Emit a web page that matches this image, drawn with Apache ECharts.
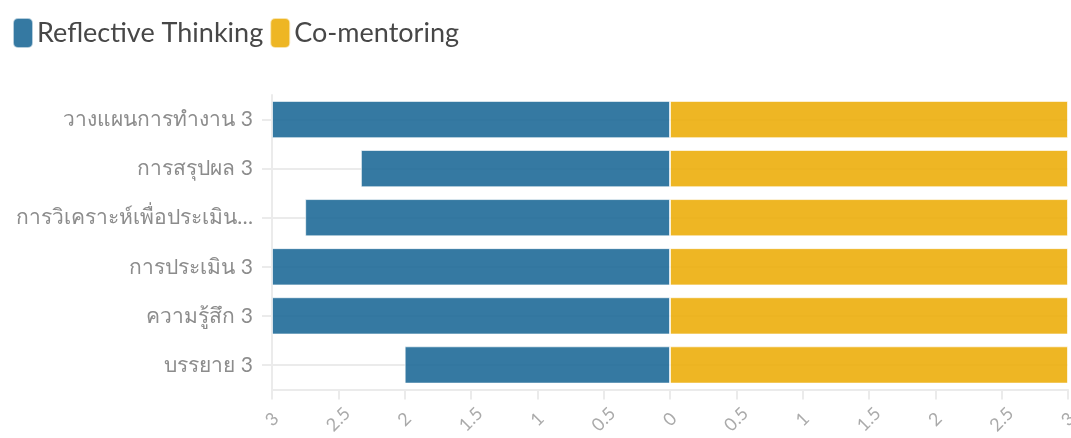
<!DOCTYPE html>
<html><head><meta charset="utf-8">
<script src="https://cdn.jsdelivr.net/npm/echarts@6/dist/echarts.min.js"></script>
<style>html,body{margin:0;padding:0;background:#fff;overflow:hidden}#c{width:1071px;height:438px}</style>
</head><body><div id="c"></div>
<script>
const categories = ['วางแผนการทำงาน 3', 'การสรุปผล 3', 'การวิเคราะห์เพื่อประเมิน…', 'การประเมิน 3', 'ความรู้สึก 3', 'บรรยาย 3'];
const reflectiveThinking = [-3, -2.33, -2.75, -3, -3, -2];
const coMentoring = [3, 3, 3, 3, 3, 3];
const seriesNames = ['Reflective Thinking', 'Co-mentoring'];

const FONT = 'Lato, "Noto Sans", sans-serif';
const chart = echarts.init(document.getElementById('c'));
chart.setOption({
  animation: false,
  legend: {
    left: 7, top: 12,
    itemWidth: 20, itemHeight: 30, itemGap: 6,
    icon: 'roundRect',
    textStyle: { fontSize: 27, color: '#474747', fontFamily: FONT, padding: [0, 0, 0, -1] },
    data: seriesNames
  },
  grid: { left: 272, right: 3, top: 95, bottom: 48.5, containLabel: false, outerBoundsMode: 'none' },
  xAxis: {
    type: 'value', min: -3, max: 3, interval: 0.5,
    axisLine: { show: true, lineStyle: { color: '#ebebeb', width: 2 } },
    axisTick: { show: true, length: 10, lineStyle: { color: '#ebebeb', width: 2 } },
    splitLine: { show: false },
    axisLabel: {
      rotate: 45, fontSize: 18, color: '#aaa', fontFamily: FONT, margin: 30,
      align: 'center', verticalAlign: 'middle',
      formatter: v => String(Math.abs(v))
    }
  },
  yAxis: {
    type: 'category', inverse: true, data: categories,
    axisLine: { show: true, onZero: false, lineStyle: { color: '#ebebeb', width: 2 } },
    axisTick: { show: true, length: 10, alignWithLabel: true, lineStyle: { color: '#ebebeb', width: 2 } },
    splitLine: { show: true, alignWithLabel: true, lineStyle: { color: '#ebebeb', width: 2 } },
    axisLabel: { fontSize: 21, color: '#8c8c8c', fontFamily: FONT, margin: 19 }
  },
  series: [
    {
      name: seriesNames[0], type: 'bar', data: reflectiveThinking,
      barWidth: '76%', barGap: '-100%',
      itemStyle: { color: '#1f6a98', opacity: 0.9, borderColor: 'rgba(255,255,255,0.7)', borderWidth: 1 }
    },
    {
      name: seriesNames[1], type: 'bar', data: coMentoring,
      barWidth: '76%', barGap: '-100%',
      itemStyle: { color: '#ecae0c', opacity: 0.9, borderColor: 'rgba(255,255,255,0.7)', borderWidth: 1 }
    }
  ]
});
</script></body></html>
